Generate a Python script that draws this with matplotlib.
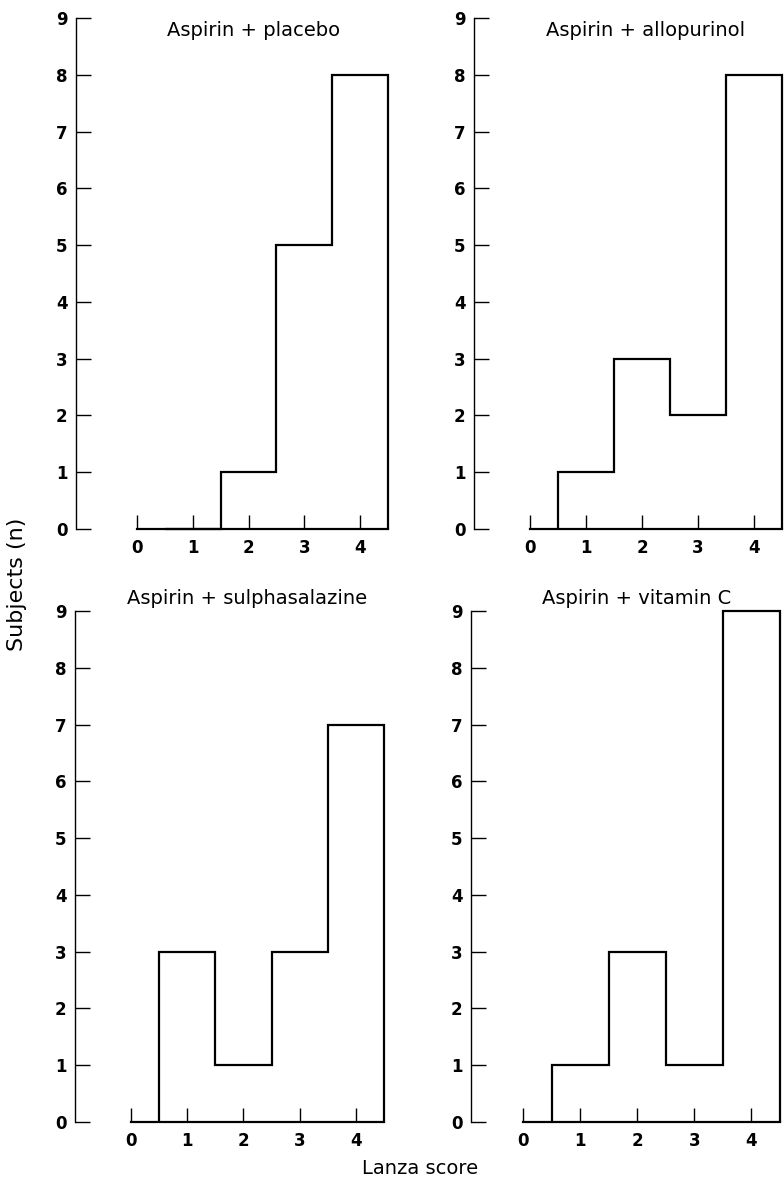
import matplotlib.pyplot as plt

W, H = 784, 1179

# Lanza scores shown on the x axis, and bin edges for scores 1..4
scores = [0, 1, 2, 3, 4]
bin_edges = [0.5, 1.5, 2.5, 3.5, 4.5]
subject_ticks = list(range(10))

# number of subjects with Lanza score 1, 2, 3, 4
placebo = [0, 1, 5, 8]
allopurinol = [1, 3, 2, 8]
sulphasalazine = [3, 1, 3, 7]
vitamin_c = [1, 3, 1, 9]

titles = ["Aspirin + placebo", "Aspirin + allopurinol",
          "Aspirin + sulphasalazine", "Aspirin + vitamin C"]
series = [placebo, allopurinol, sulphasalazine, vitamin_c]

# panel geometry in pixels: spine x, x=0 position, x=4.5 position, y=0, y=9
panels = [
    (76, 137, 388, 529, 18),
    (474, 530, 782, 529, 18),
    (75, 131, 384, 1122, 611),
    (471, 523, 780, 1122, 611),
]
title_pos = [(254, 31), (646, 31), (247, 598), (637, 598)]

plt.rcParams["font.family"] = ["DejaVu Sans"]

fig = plt.figure(figsize=(W / 100, H / 100), dpi=100)

for (spine, x0, x45, y0, y9), values, title, (tx, ty) in zip(panels, series, titles, title_pos):
    scale = (x45 - x0) / bin_edges[-1]
    left_lim = -(x0 - spine) / scale
    ax = fig.add_axes([spine / W, 1 - y0 / H, (x45 - spine) / W, (y0 - y9) / H])
    ax.set_xlim(left_lim, bin_edges[-1])
    ax.set_ylim(0, 9)
    ax.patch.set_alpha(0)

    ax.stairs(values, bin_edges, baseline=0, color="black", linewidth=1.6,
              clip_on=False)

    for side in ["top", "right"]:
        ax.spines[side].set_visible(False)
    ax.spines["left"].set_bounds(0, 9)
    ax.spines["bottom"].set_bounds(0, bin_edges[-1])
    ax.spines["left"].set_linewidth(1.0)
    ax.spines["bottom"].set_linewidth(1.6)

    ax.set_xticks(scores)
    ax.set_yticks(subject_ticks)
    ax.tick_params(axis="x", direction="in", length=10, width=1.0, pad=7,
                   labelsize=12)
    ax.tick_params(axis="y", direction="in", length=11, width=1.0, pad=6,
                   labelsize=12)
    for lab in ax.get_xticklabels() + ax.get_yticklabels():
        lab.set_fontweight("bold")

    fig.text(tx / W, 1 - ty / H, title, ha="center", va="center", fontsize=14)

fig.text(17 / W, 1 - 584 / H, "Subjects (n)", rotation=90, ha="center",
         va="center", fontsize=16)
fig.text(420 / W, 1 - 1169 / H, "Lanza score", ha="center", va="center",
         fontsize=14)

fig.savefig("out.png", dpi=100)
